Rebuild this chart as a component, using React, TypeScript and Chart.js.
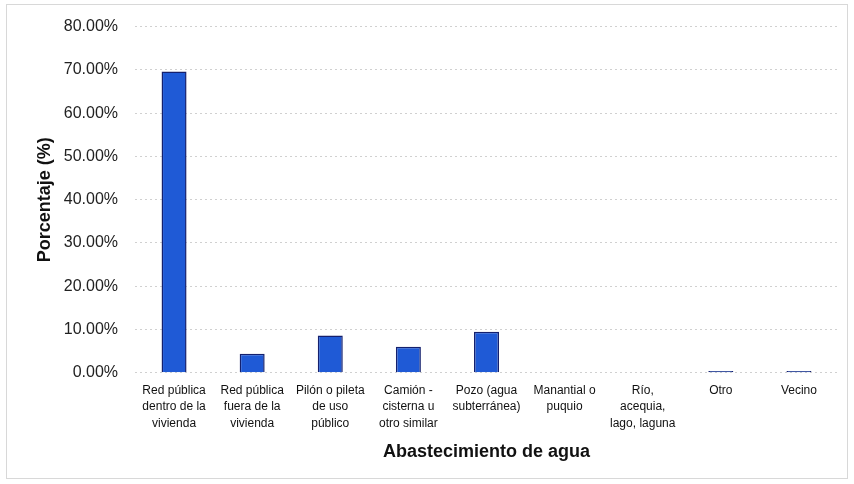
import React, { useEffect, useRef } from "react";
import { Chart, registerables } from "chart.js";

Chart.register(...registerables);

const categories: string[][] = [
  ["Red pública", "dentro de la", "vivienda"],
  ["Red pública", "fuera de la", "vivienda"],
  ["Pilón o pileta", "de uso", "público"],
  ["Camión -", "cisterna u", "otro similar"],
  ["Pozo (agua", "subterránea)"],
  ["Manantial o", "puquio"],
  ["Río,", "acequia,", "lago, laguna"],
  ["Otro"],
  ["Vecino"],
];

const values: number[] = [69.6, 4.4, 8.6, 6.0, 9.5, 0, 0, 0.4, 0.4];

const yTitle = "Porcentaje (%)";
const xTitle = "Abastecimiento de agua";

export default function App() {
  const ref = useRef<HTMLCanvasElement | null>(null);

  useEffect(() => {
    document.body.style.margin = "0";
    const canvas = ref.current;
    if (!canvas) return;
    const framePlugin = {
      id: "frame",
      beforeDraw(chart: any) {
        const ctx = chart.ctx;
        ctx.save();
        ctx.fillStyle = "#ffffff";
        ctx.fillRect(0, 0, chart.width, chart.height);
        ctx.strokeStyle = "#d8d8d8";
        ctx.lineWidth = 1;
        ctx.strokeRect(6.5, 4.5, chart.width - 13, chart.height - 10);
        ctx.restore();
      },
    };
    const chart = new Chart(canvas, {
      type: "bar",
      data: {
        labels: categories,
        datasets: [
          {
            data: values,
            backgroundColor: "#1f5ad6",
            borderColor: "#14206e",
            borderWidth: 1.5,
            barPercentage: 0.32,
            categoryPercentage: 1,
          },
        ],
      },
      options: {
        responsive: false,
        animation: false,
        plugins: {
          legend: { display: false },
          tooltip: { enabled: false },
        },
        layout: { padding: { left: 0, right: 16, top: 19, bottom: 17 } },
        scales: {
          y: {
            min: 0,
            max: 80,
            afterFit: (s: any) => {
              s.width = 135;
            },
            ticks: {
              stepSize: 10,
              padding: 17,
              color: "#222",
              font: { family: "Liberation Sans, Arial", size: 16 },
              callback: (v: any) => Number(v).toFixed(2) + "%",
            },
            grid: {
              color: "#d0d0d0",
              lineWidth: 1,
              drawTicks: false,
            },
            border: { display: false, dash: [2, 3] },
            title: {
              display: true,
              text: yTitle,
              color: "#111",
              font: { family: "Liberation Sans, Arial", size: 18, weight: "bold" },
              padding: { top: 34, bottom: 0 },
            },
          },
          x: {
            ticks: {
              color: "#111",
              maxRotation: 0,
              autoSkip: false,
              padding: 10,
              font: { family: "Liberation Sans, Arial", size: 12, lineHeight: 1.35 },
            },
            grid: { display: false, drawTicks: false },
            border: { display: false },
            title: {
              display: true,
              text: xTitle,
              color: "#111",
              font: { family: "Liberation Sans, Arial", size: 18, weight: "bold" },
              padding: { top: 0 },
            },
          },
        },
      },
      plugins: [framePlugin],
    });
    return () => chart.destroy();
  }, []);

  return (
    <div style={{ width: 854, height: 484 }}>
      <canvas ref={ref} width={854} height={484} />
    </div>
  );
}
